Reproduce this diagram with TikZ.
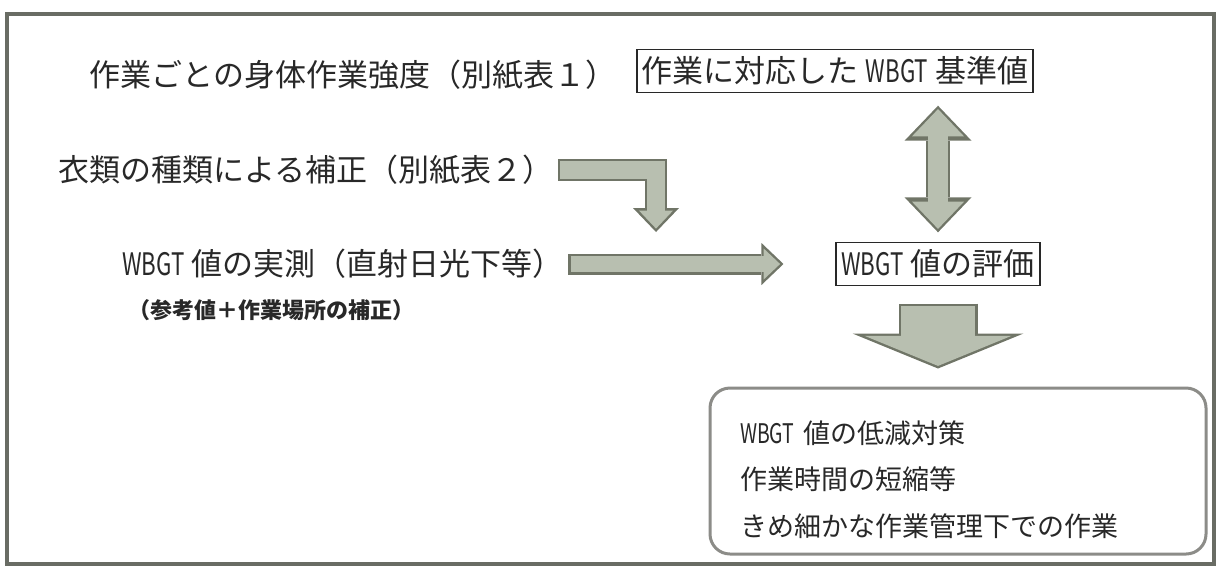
\documentclass[tikz,border=0pt]{standalone}
\usepackage{fontspec}
\setmainfont{Noto Sans CJK JP}
\usepackage{xcolor}
\usepackage{tikz}
\usetikzlibrary{arrows.meta}

\definecolor{rimgray}{RGB}{112,117,103}
\definecolor{bodygray}{RGB}{184,191,176}
\definecolor{framegray}{RGB}{105,108,100}
\definecolor{roundgray}{RGB}{140,140,136}
\definecolor{inkgray}{RGB}{40,40,40}

\newcommand{\wbgt}{\scalebox{0.72}[1]{WBGT}}

\begin{document}
\begin{tikzpicture}[x=0.5pt, y=-0.5pt,
		every node/.style={inner sep=0pt, text=inkgray, font=\fontsize{15.5pt}{18pt}\selectfont},
		valbox/.style={draw=inkgray, line width=0.8pt, inner xsep=2.5pt, minimum height=21.5pt},
		rim/.style={draw=rimgray, line join=miter},
		body/.style={draw=bodygray, line join=miter}]
		
		\useasboundingbox (0,0) rectangle (1218,569);
		\draw[framegray, line width=1.6pt] (7,14) rectangle (1214,564);
		
		\node[anchor=west] (intensity) at (89,75) {作業ごとの身体作業強度（別紙表１）};
		\node[valbox] (refval) at (835,71) {作業に対応した \wbgt{} 基準値};
		
		\node[anchor=west] (clothes) at (58,170) {衣類の種類による補正（別紙表２）};
		
		\node[anchor=west] (meas) at (122,264) {\wbgt{} 値の実測（直射日光下等）};
		\node[anchor=west, font=\fontsize{11pt}{12pt}\bfseries] (note) at (128,310) {（参考値＋作業場所の補正）};
		
		\node[valbox] (eval) at (938,264) {\wbgt{} 値の評価};
		
		\node[draw=roundgray, line width=1.5pt, rounded corners=10pt, minimum width=248pt, minimum height=83pt,
			text width=218pt, align=left, font=\fontsize{13.5pt}{23.3pt}\selectfont] (todo) at (958,471) {
			\rule{0pt}{20pt}\wbgt{} 値の低減対策\\
			作業時間の短縮等\\
			きめ細かな作業管理下での作業
		};
		
		\coordinate (bend) at (656,232);
		
		% clothing correction, bent down
		\draw[rim, line width=11pt, -{Triangle[width=23pt,length=12pt,line width=0pt 0 0]}]
		([xshift=2pt]clothes.east) -| (bend);
		\draw[body, line width=8.6pt, shorten <=1.2pt, shorten >=1.7pt, -{Triangle[width=17pt,length=9pt,line width=0pt 0 0]}]
		([xshift=2pt]clothes.east) -| (bend);
		
		% measured value
		\draw[rim, line width=10.5pt, -{Triangle[width=21pt,length=11pt,line width=0pt 0 0]}]
		([xshift=2pt]meas.east) -- ([xshift=-26pt]eval.west);
		\draw[body, line width=8.1pt, shorten <=1.2pt, shorten >=1.7pt, -{Triangle[width=15.5pt,length=8.2pt,line width=0pt 0 0]}]
		([xshift=2pt]meas.east) -- ([xshift=-26pt]eval.west);
		
		% reference value <-> evaluation
		\draw[rim, line width=12pt, shorten <=6.2pt, shorten >=4.7pt,
			{Triangle[width=33.5pt,length=17.5pt,line width=0pt 0 0]}-{Triangle[width=33.5pt,length=17.5pt,line width=0pt 0 0]}]
		(eval.north |- refval.south) -- (eval.north);
		\draw[body, line width=9.6pt, shorten <=7.9pt, shorten >=6.4pt,
			{Triangle[width=26pt,length=13.6pt,line width=0pt 0 0]}-{Triangle[width=26pt,length=13.6pt,line width=0pt 0 0]}]
		(eval.north |- refval.south) -- (eval.north);
		
		% evaluation -> measures
		\draw[rim, line width=39.5pt, shorten <=8.7pt, shorten >=9pt, -{Triangle[width=85.5pt,length=17.5pt,line width=0pt 0 0]}]
		(eval.south) -- (eval.south |- todo.north);
		\draw[body, line width=37.1pt, shorten <=9.9pt, shorten >=10.3pt, -{Triangle[width=73.3pt,length=15pt,line width=0pt 0 0]}]
		(eval.south) -- (eval.south |- todo.north);
		
\end{tikzpicture}
\end{document}
